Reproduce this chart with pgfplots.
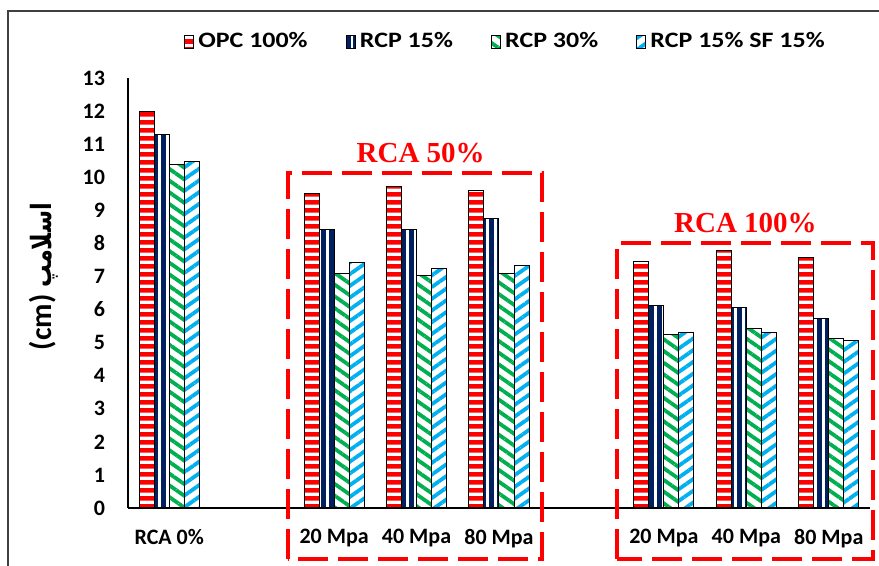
\documentclass[border=0pt]{standalone}
\usepackage{pgfplots}
\pgfplotsset{compat=1.18}
\usetikzlibrary{patterns,patterns.meta}
\usepackage{fontspec}
\setmainfont{Carlito}
\newfontfamily\legfont{Carlito}[FakeStretch=1.18]
\newfontfamily\arabicfont[Script=Arabic, FakeStretch=0.8]{DejaVu Sans}
\newfontfamily\serifbold{Liberation Serif}
\TeXXeTstate=1
\definecolor{cRed}{RGB}{255,0,0}
\definecolor{cNavy}{RGB}{0,32,96}
\definecolor{cGreen}{RGB}{0,176,80}
\definecolor{cBlue}{RGB}{0,176,240}

\pgfdeclarepatternformonly{hstripes}{\pgfpointorigin}{\pgfpoint{600pt}{4pt}}{\pgfpoint{600pt}{4pt}}{%
  \pgfpathrectangle{\pgfpoint{0pt}{0.75pt}}{\pgfpoint{600pt}{2.5pt}}\pgfusepath{fill}}
\pgfdeclarepatternformonly{vstripes}{\pgfpointorigin}{\pgfpoint{4pt}{600pt}}{\pgfpoint{4pt}{600pt}}{%
  \pgfpathrectangle{\pgfpoint{0.7pt}{0pt}}{\pgfpoint{2.6pt}{600pt}}\pgfusepath{fill}}

\pgfplotstableread{
x y
0 12.0
2 9.52
3 9.73
4 9.6
6 7.44
7 7.77
8 7.57
}\opc
\pgfplotstableread{
x y
0 11.3
2 8.42
3 8.42
4 8.75
6 6.12
7 6.06
8 5.74
}\rcpA
\pgfplotstableread{
x y
0 10.37
2 7.1
3 7.03
4 7.1
6 5.25
7 5.44
8 5.13
}\rcpB
\pgfplotstableread{
x y
0 10.47
2 7.43
3 7.25
4 7.34
6 5.31
7 5.31
8 5.07
}\rcpC

\begin{document}
\begin{tikzpicture}
\path[use as bounding box] (0pt,0pt) rectangle (439.5pt,283pt);
\draw[black!75, line width=0.7pt] (4pt,-5pt) -- (4pt,277.5pt) -- (445pt,277.5pt);
\begin{axis}[
  at={(64pt,29pt)}, anchor=south west,
  scale only axis, width=371pt, height=215pt,
  xmin=-0.5, xmax=8.5, ymin=0, ymax=13,
  axis x line*=bottom, axis y line*=left,
  axis line style={black, line width=0.6pt},
  clip=false,
  ybar=0pt, bar width=0.182,
  xtick={0,2,3,4,6,7,8},
  xticklabels={RCA 0\%, 20 Mpa, 40 Mpa, 80 Mpa, 20 Mpa, 40 Mpa, 80 Mpa},
  ytick={0,1,...,13},
  major tick length=0pt,
  tick label style={font=\bfseries\fontsize{11}{13}\selectfont},
  /pgf/number format/assume math mode=true,
  yticklabel style={xshift=-8pt},
  xticklabel style={yshift=-7pt},
  ylabel={\bfseries\fontsize{15}{17}\selectfont (cm) {\arabicfont\bfseries\fontsize{14}{17}\selectfont\beginR اسلامپ\endR}},
  ylabel style={at={(rel axis cs:-0.113,0.538)}, anchor=center},
  legend style={at={(0.51,1.084)}, anchor=center, draw=none, fill=none,
    legend columns=4, font=\legfont\bfseries\fontsize{11}{13}\selectfont,
    /tikz/every even column/.append style={column sep=17pt}},
  legend cell align=left,
  mylegend/.style={legend image code/.code={\draw[##1, draw=black, line width=0.5pt] (0pt,-3.2pt) rectangle (4.6pt,3.2pt);}},
]
\addplot[draw=black, line width=0.5pt, pattern=hstripes, pattern color=cRed, mylegend] table[x=x,y=y]{\opc};
\addlegendentry{OPC 100\%}
\addplot[draw=black, line width=0.5pt, pattern=vstripes, pattern color=cNavy, mylegend] table[x=x,y=y]{\rcpA};
\addlegendentry{RCP 15\%}
\addplot[draw=black, line width=0.5pt, pattern={Lines[angle=-35,distance=4.8pt,line width=1.9pt]}, pattern color=cGreen, mylegend] table[x=x,y=y]{\rcpB};
\addlegendentry{RCP 30\%}
\addplot[draw=black, line width=0.5pt, pattern={Lines[angle=35,distance=4.8pt,line width=1.9pt]}, pattern color=cBlue, mylegend] table[x=x,y=y]{\rcpC};
\addlegendentry{RCP 15\% SF 15\%}

\draw[cRed, line width=2pt, dash pattern=on 15pt off 5pt] (axis cs:1.44,-1.54) rectangle (axis cs:4.52,10.14);
\draw[cRed, line width=2pt, dash pattern=on 15pt off 5pt] (axis cs:5.43,-1.54) rectangle (axis cs:8.54,8.02);
\node[text=cRed, font=\serifbold\bfseries\fontsize{14.5}{16}\selectfont] at (axis cs:3.05,10.73) {RCA 50\%};
\node[text=cRed, font=\serifbold\bfseries\fontsize{14.5}{16}\selectfont] at (axis cs:6.99,8.62) {RCA 100\%};
\end{axis}
\end{tikzpicture}
\end{document}
